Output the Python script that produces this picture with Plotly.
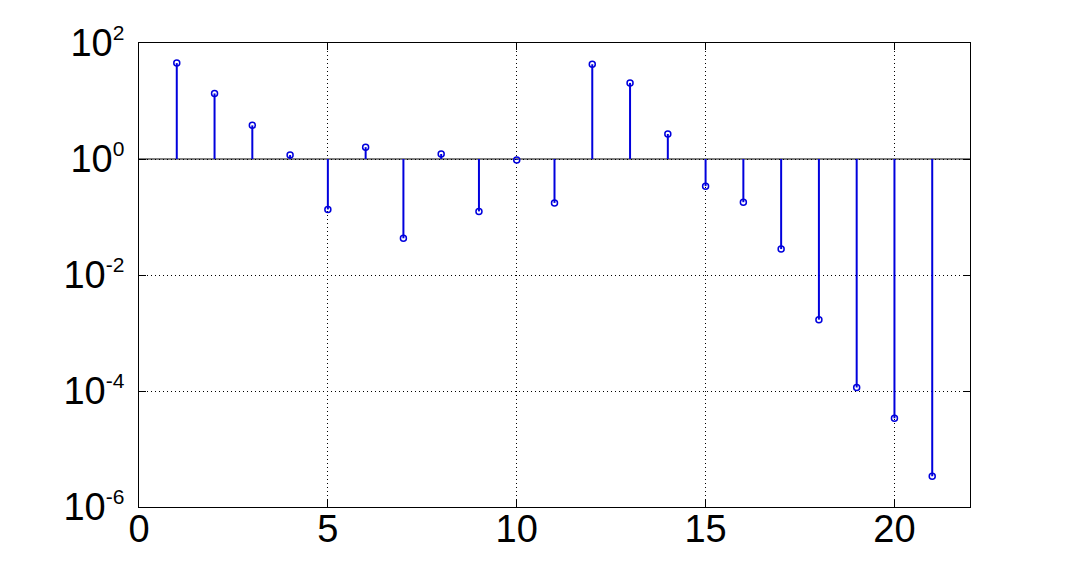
import plotly.graph_objects as go

# stem values
n = list(range(1, 22))
vals = [45, 13.5, 3.8, 1.17, 0.135, 1.6, 0.043, 1.22, 0.125, 0.96, 0.175,
        43, 20.5, 2.7, 0.34, 0.18, 0.028, 0.0017, 1.15e-4, 3.4e-5, 3.4e-6]

xticks = [0, 5, 10, 15, 20]
yticks = [1e-6, 1e-4, 1e-2, 1, 1e2]
yexp = ["-6", "-4", "-2", "0", "2"]
ylabels = ["10<sup><span style='font-size:21px'>%s</span></sup>" % e for e in yexp]

blue = "#0000dd"

# stems from the baseline (1) to each value
sx, sy = [], []
for xi, yi in zip(n, vals):
    sx += [xi, xi, None]
    sy += [1, yi, None]

fig = go.Figure()
fig.add_trace(go.Scatter(x=[0, 22], y=[1, 1], mode="lines",
                         line=dict(color="black", width=1), hoverinfo="skip"))
fig.add_trace(go.Scatter(x=sx, y=sy, mode="lines",
                         line=dict(color=blue, width=2), hoverinfo="skip"))
fig.add_trace(go.Scatter(x=n, y=vals, mode="markers",
                         marker=dict(symbol="circle-open", size=6, color=blue,
                                     line=dict(width=1.5, color=blue))))

axis_font = dict(family="Liberation Sans, Arial, sans-serif", size=38, color="black")

# the page body adds an 8px offset, so the figure is a bit smaller than the window
fig.update_layout(
    width=1064, height=562,
    margin=dict(l=131, r=102, t=35, b=63),
    plot_bgcolor="white", paper_bgcolor="white",
    showlegend=False,
    font=axis_font,
)
common = dict(
    showline=True, linecolor="black", linewidth=1, mirror="ticks",
    ticks="inside", ticklen=7, tickcolor="black",
    showgrid=True, gridcolor="black", gridwidth=1, griddash="1px,3px",
    zeroline=False, tickfont=axis_font, automargin=False,
)
fig.update_xaxes(range=[0, 22], tickvals=xticks,
                 ticktext=[str(t) for t in xticks], ticklabelstandoff=-12, **common)
fig.update_yaxes(type="log", range=[-6, 2], tickvals=yticks,
                 ticktext=ylabels, ticklabelstandoff=6, **common)

fig.write_html("out.html")
